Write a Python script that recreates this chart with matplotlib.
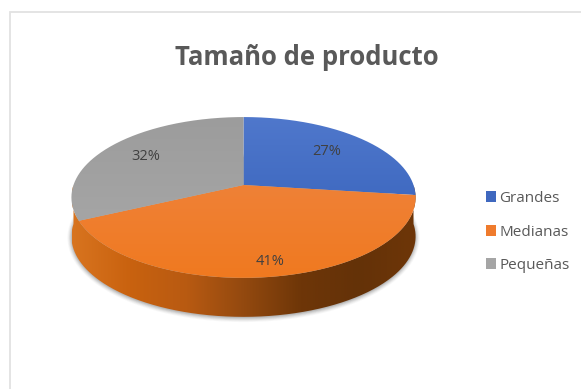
import numpy as np
import matplotlib
matplotlib.use("Agg")
import matplotlib.pyplot as plt
from matplotlib.patches import Patch, PathPatch, Polygon, Rectangle
from matplotlib.path import Path
from matplotlib.colors import LinearSegmentedColormap

# Datos
categorias = ["Grandes", "Medianas", "Pequeñas"]
porcentajes = [27, 41, 32]
etiquetas = ["27%", "41%", "32%"]
radio_etiqueta = [0.70, 0.86, 0.72]

colores = ["#3f68bf", "#ef7b2d", "#a5a5a5"]
degradados = [("#5078cc", "#2f5cb6"), ("#ee8748", "#f0791f"), ("#9c9c9c", "#aaaaaa")]
lateral = ["#d8741f", "#c9620f", "#b85a12", "#93490f", "#6e3608", "#643208", "#6e3608"]

# Parametros de la vista en perspectiva (pixeles)
CX, CY = 243.5, 185.0
ESCALA_X = 170.0
ESCALA_Y = -49.8
PERSP = 0.155
GROSOR = 40.0


def proyectar(theta, r=1.0):
    # theta en grados, sentido horario desde arriba
    t = np.radians(theta)
    u, v = r * np.sin(t), r * np.cos(t)
    den = 1 + PERSP * v
    return CX + ESCALA_X * u / den, (CY + ESCALA_Y * v) / den


def relleno_gradiente(ax, path, cmap_colors, horizontal, extent, zorder):
    cmap = LinearSegmentedColormap.from_list("g", cmap_colors)
    g = np.linspace(0, 1, 256)
    g = g.reshape(1, -1) if horizontal else g.reshape(-1, 1)
    im = ax.imshow(g, cmap=cmap, extent=extent, aspect="auto", zorder=zorder,
                   interpolation="bilinear")
    patch = PathPatch(path, transform=ax.transData, facecolor="none", edgecolor="none")
    ax.add_patch(patch)
    im.set_clip_path(patch)


plt.rcParams["font.family"] = ["Open Sans", "DejaVu Sans"]

fig = plt.figure(figsize=(5.81, 3.89), dpi=100)
ax = fig.add_axes([0, 0, 1, 1])

# Marco del grafico
ax.add_patch(Rectangle((9.5, 12), 620, 420, facecolor="white", edgecolor="#e2e2e2", lw=1.3, zorder=0))

ang = np.linspace(0, 360, 721)
bx, by = proyectar(ang)

# Sombra difusa bajo el disco
for dx, alpha in zip(np.linspace(4, 0, 6), np.linspace(0.03, 0.10, 6)):
    xs = CX + (bx - CX) * (1 + dx / 172)
    ys = by + GROSOR + (by - by.mean()) * (dx / 82)
    ax.add_patch(Polygon(np.c_[xs, ys], closed=True, facecolor="#303030", edgecolor="none", alpha=alpha, zorder=1))

# Pared lateral del disco
frente = np.linspace(90, 270, 361)
fx, fy = proyectar(frente)
borde_x = np.r_[fx, fx[::-1]]
borde_y = np.r_[fy, fy[::-1] + GROSOR - 1]
pared = Path(np.c_[borde_x, borde_y])
relleno_gradiente(ax, pared, lateral, True, (72, 416, 330, 180), 2)

# Sectores superiores
acum = np.cumsum([0] + porcentajes) * 3.6
for i in range(len(porcentajes)):
    th = np.linspace(acum[i], acum[i + 1], 200)
    x, y = proyectar(th)
    path = Path(np.r_[[[CX, CY]], np.c_[x, y], [[CX, CY]]])
    relleno_gradiente(ax, path, degradados[i], False, (70, 418, 280, 115), 3)

# Etiquetas de datos
medios = (acum[:-1] + acum[1:]) / 2
for m, r, txt in zip(medios, radio_etiqueta, etiquetas):
    x, y = proyectar(m, r)
    ax.text(x, y, txt, ha="center", va="center", fontsize=10.5, color="#404040", zorder=5)

ax.set_xlim(0, 581)
ax.set_ylim(389, 0)
ax.axis("off")

ax.text(307, 57, "Tamaño de producto", ha="center", va="center", fontsize=18.5,
        fontweight="bold", color="#595959")

# Leyenda
handles = [Patch(facecolor=c, edgecolor="none") for c in colores]
fig.legend(handles, categorias, loc="center left", bbox_to_anchor=(486 / 581, 1 - 232 / 389),
           frameon=False, fontsize=11, labelcolor="#595959", handlelength=0.68, handleheight=0.7,
           handletextpad=0.2, labelspacing=1.2, borderpad=0, borderaxespad=0)

plt.savefig("out.png", dpi=100)
